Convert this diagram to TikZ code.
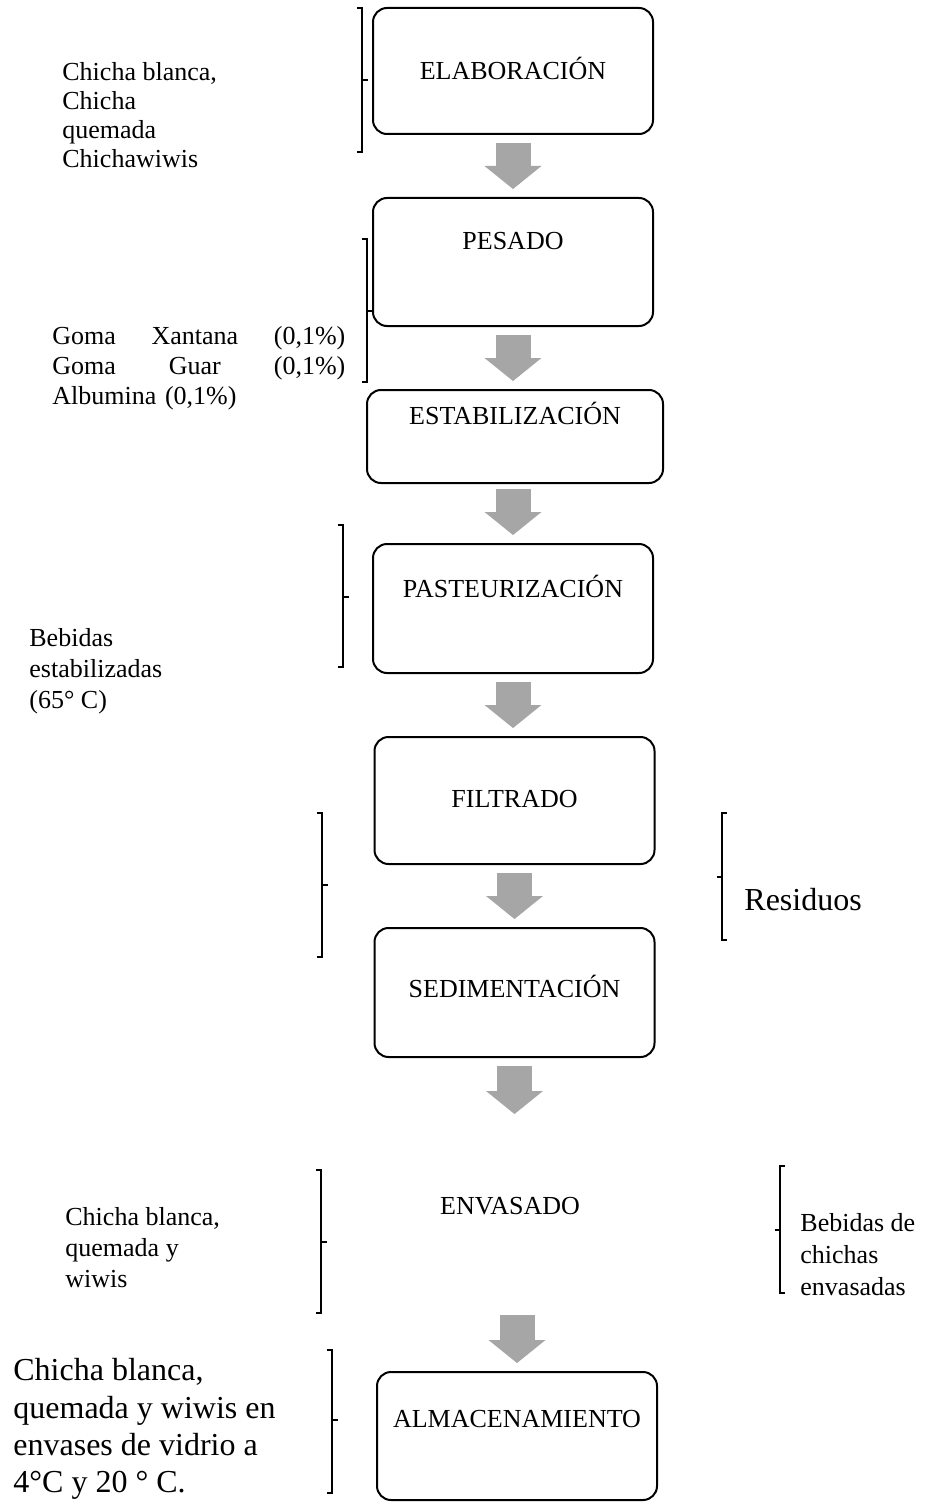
\documentclass[tikz,border=0pt]{standalone}
\usepackage{fontspec}
\setmainfont{Liberation Serif}
\usetikzlibrary{arrows.meta,calc}
\definecolor{flechagris}{HTML}{A6A6A6}

\begin{document}
\begin{tikzpicture}[x=0.5pt,y=-0.5pt,
  caja/.style={draw, line width=1pt, rounded corners=7pt, minimum width=140pt, inner sep=0pt},
  etiq/.style={font=\fontsize{13}{15}\selectfont, inner sep=0pt, text height=1.5ex, text depth=.25ex},
  nota/.style={font=\fontsize{13}{15}\selectfont, align=left, anchor=west, inner sep=0pt},
  flecha/.style={line width=17.5pt, flechagris, -{Triangle[width=28.5pt,length=11.5pt,line width=0pt]}},
  corchete/.style={line width=0.6pt}]
  \useasboundingbox (0,0) rectangle (945,1503);
  % Etapas del proceso
  \node[caja, minimum height=63pt] (elab) at (513,71) {};
  \node[etiq] (elabt) at (513,74) {ELABORACIÓN};
  \node[caja, minimum height=64pt] (pesado) at (513,262) {};
  \node[etiq] (pesadot) at (513,244) {PESADO};
  \node[caja, minimum height=46.5pt, minimum width=148pt] (estab) at (515,436.5) {};
  \node[etiq] (estabt) at (515,419) {ESTABILIZACIÓN};
  \node[caja, minimum height=64.5pt] (pasteur) at (513,608.5) {};
  \node[etiq] (pasteurt) at (513,592) {PASTEURIZACIÓN};
  \node[caja, minimum height=63.5pt] (filtrado) at (514.5,800.5) {};
  \node[etiq] (filtradot) at (514.5,802) {FILTRADO};
  \node[caja, minimum height=64.5pt] (sedim) at (514.5,992.5) {};
  \node[etiq] (sedimt) at (514.5,992) {SEDIMENTACIÓN};
  \node[etiq] (envasado) at (510,1209) {ENVASADO};
  \node[caja, minimum height=64pt] (almac) at (517,1436) {};
  \node[etiq] (almact) at (517,1422) {ALMACENAMIENTO};
  % Flechas
  \draw[flecha] ($(elab.south)+(0,8)$) -- ($(elab.south |- pesado.north)-(0,8)$);
  \draw[flecha] ($(pesado.south)+(0,8)$) -- ($(pesado.south |- estab.north)-(0,8)$);
  \draw[flecha] ($(pasteur.north |- estab.south)+(0,5)$) -- ($(pasteur.north)-(0,8)$);
  \draw[flecha] ($(pasteur.south)+(0,8)$) -- ($(pasteur.south |- filtrado.north)-(0,8)$);
  \draw[flecha] ($(filtrado.south)+(0,8)$) -- ($(sedim.north)-(0,8)$);
  \draw[flecha] ($(sedim.south)+(0,8)$) -- ++(0,48);
  \draw[flecha] ($(almac.north)-(0,56)$) -- ($(almac.north)-(0,8)$);
  % Corchetes
  \foreach \x/\ya/\yb/\ym in {362/8/152/80, 367/239/382/311, 343/525/667/597,
      322/813/957/885, 321/1170/1313/1242, 332/1350/1493/1420}{
    \draw[corchete] (\x-5,\ya) -- (\x,\ya) -- (\x,\yb) -- (\x-5,\yb);
    \draw[corchete] (\x,\ym) -- (\x+6,\ym);
  }
  \foreach \x/\ya/\yb/\ym in {722/813/940/877, 780/1166/1293/1230}{
    \draw[corchete] (\x+5,\ya) -- (\x,\ya) -- (\x,\yb) -- (\x+5,\yb);
    \draw[corchete] (\x,\ym) -- (\x-5,\ym);
  }
  % Entradas y salidas
  \node[nota, font=\fontsize{13}{14.5}\selectfont] (chichas) at (62,115)
    {Chicha blanca,\\Chicha\\quemada\\Chichawiwis};
  \node[nota, text width=146.5pt] (gomas) at (52,368)
    {Goma\hfill Xantana\hfill (0,1\%)\\Goma\hfill Guar\hfill (0,1\%)\\Albumina (0,1\%)};
  \node[nota, font=\fontsize{13}{15.5}\selectfont] (bebidas) at (29,671)
    {Bebidas\\estabilizadas\\(65° C)};
  \node[nota, font=\fontsize{16}{18}\selectfont] (residuos) at (744,900) {Residuos};
  \node[nota, font=\fontsize{13}{15.5}\selectfont] (chichasenv) at (65,1248)
    {Chicha blanca,\\quemada y\\wiwis};
  \node[nota, font=\fontsize{13}{16}\selectfont] (envasadas) at (800,1255)
    {Bebidas de\\chichas\\envasadas};
  \node[nota, font=\fontsize{16}{18.6}\selectfont] (almacen) at (13,1429)
    {Chicha blanca,\\quemada y wiwis en\\envases de vidrio a\\4°C y 20 ° C.};
\end{tikzpicture}
\end{document}
